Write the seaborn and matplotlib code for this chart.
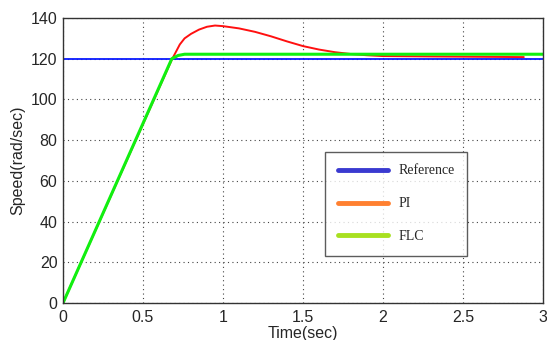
import matplotlib
matplotlib.use("Agg")
import matplotlib.pyplot as plt
from matplotlib.lines import Line2D
import seaborn as sns
import pandas as pd

# Data
ref_t = [0.0, 3.0]
ref_v = [120, 120]

pi_t = [0.0, 0.68, 0.70, 0.73, 0.76, 0.80, 0.85, 0.90, 0.95, 1.00, 1.10, 1.20, 1.30,
        1.40, 1.50, 1.60, 1.70, 1.80, 1.90, 2.00, 2.30, 2.88]
pi_v = [0, 119.5, 122.5, 127.0, 130.0, 132.2, 134.3, 135.7, 136.3, 136.0, 134.9, 133.2,
        131.0, 128.5, 126.2, 124.5, 123.2, 122.3, 121.7, 121.3, 121.1, 120.8]

flc_t = [0.0, 0.68, 0.72, 0.76, 3.0]
flc_v = [0, 120, 121.6, 122.2, 122.2]

x_ticks = [0, 0.5, 1, 1.5, 2, 2.5, 3]
x_tick_labels = ["0", "0.5", "1", "1.5", "2", "2.5", "3"]
y_ticks = [0, 20, 40, 60, 80, 100, 120, 140]
legend_labels = ["Reference", "PI", "FLC"]

sns.set_style("white")
plt.rcParams['font.family'] = ['Liberation Sans', 'DejaVu Sans']

fig = plt.figure(figsize=(5.47, 3.40), dpi=100)
ax = fig.add_axes([63/547, 37/340, 480/547, 285/340])

df_ref = pd.DataFrame({"t": ref_t, "v": ref_v})
df_pi = pd.DataFrame({"t": pi_t, "v": pi_v})
df_flc = pd.DataFrame({"t": flc_t, "v": flc_v})

sns.lineplot(data=df_ref, x="t", y="v", ax=ax, color="#0a1aff", linewidth=1.3)
sns.lineplot(data=df_pi, x="t", y="v", ax=ax, color="#ff1010", linewidth=1.4)
sns.lineplot(data=df_flc, x="t", y="v", ax=ax, color="#10f010", linewidth=2.2)

ax.set_xlim(0, 3)
ax.set_ylim(0, 140)
ax.set_xticks(x_ticks)
ax.set_xticklabels(x_tick_labels)
ax.set_yticks(y_ticks)
ax.tick_params(axis="x", labelsize=11.5, length=0, pad=5)
ax.tick_params(axis="y", labelsize=11.5, length=0, pad=4)
ax.grid(True, linestyle=(0, (1, 3)), color="#444444", linewidth=0.8)
for s in ax.spines.values():
    s.set_color("#333333")
    s.set_linewidth(1.0)

ax.set_xlabel("Time(sec)", fontsize=11.5, labelpad=1)
ax.set_ylabel("Speed(rad/sec)", fontsize=11.5, labelpad=4)

handles = [Line2D([], [], color="#3a3ad0", linewidth=3.5),
           Line2D([], [], color="#ff8030", linewidth=3.5),
           Line2D([], [], color="#a8e020", linewidth=3.5)]
leg = ax.legend(handles, legend_labels, loc="upper left",
                bbox_to_anchor=((325 - 63) / 480, (303 - 152) / 285),
                prop={"family": "Liberation Serif", "size": 10},
                handlelength=3.6, labelspacing=1.43, borderpad=0.9,
                handletextpad=0.8, frameon=True, fancybox=False,
                borderaxespad=0)
leg.get_frame().set_edgecolor("#333333")
leg.get_frame().set_linewidth(1.0)

fig.savefig("out.png", dpi=100)
